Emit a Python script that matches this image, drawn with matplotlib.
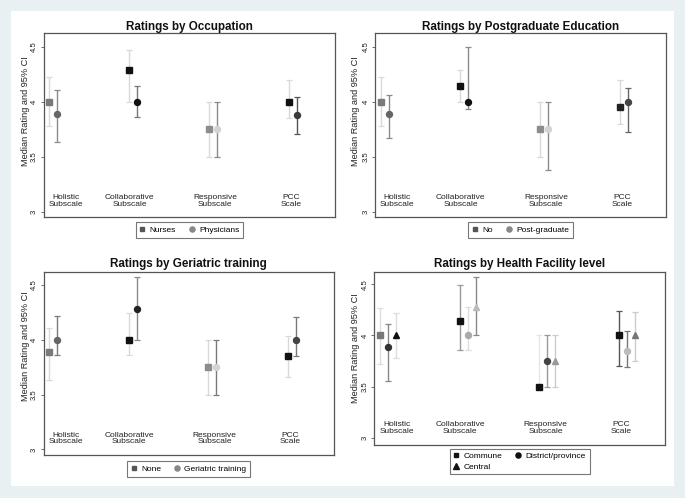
import matplotlib
matplotlib.use("Agg")
import matplotlib.pyplot as plt
from matplotlib.patches import Rectangle
from matplotlib.lines import Line2D

plt.rcParams['font.family'] = ['Liberation Sans', 'DejaVu Sans']

# ---------------- data ----------------
categories = ["Holistic\nSubscale", "Collaborative\nSubscale", "Responsive\nSubscale", "PCC\nScale"]
yticks = [3, 3.5, 4, 4.5]
ytick_labels = ["3", "3.5", "4", "4.5"]

# Occupation
nurses_med = [4.0, 4.286, 3.75, 4.0]
nurses_lo = [3.78, 4.0, 3.5, 3.85]
nurses_hi = [4.22, 4.47, 4.0, 4.20]
phys_med = [3.89, 4.0, 3.75, 3.875]
phys_lo = [3.63, 3.86, 3.5, 3.71]
phys_hi = [4.11, 4.14, 4.0, 4.04]

# Postgraduate education
no_med = [4.0, 4.143, 3.75, 3.95]
no_lo = [3.78, 4.0, 3.5, 3.80]
no_hi = [4.22, 4.286, 4.0, 4.20]
pg_med = [3.89, 4.0, 3.75, 4.0]
pg_lo = [3.667, 3.93, 3.375, 3.725]
pg_hi = [4.056, 4.5, 4.0, 4.125]

# Geriatric training
none_med = [3.887, 4.0, 3.75, 3.848]
none_lo = [3.633, 3.857, 3.5, 3.664]
none_hi = [4.105, 4.248, 4.0, 4.036]
ger_med = [4.0, 4.28, 3.75, 4.0]
ger_lo = [3.857, 4.0, 3.5, 3.848]
ger_hi = [4.218, 4.57, 4.0, 4.212]

# Health facility level
com_med = [4.0, 4.139, 3.5, 4.0]
com_lo = [3.725, 3.854, 3.5, 3.70]
com_hi = [4.27, 4.49, 4.0, 4.243]
dis_med = [3.887, 4.0, 3.75, 3.848]
dis_lo = [3.556, 3.854, 3.5, 3.69]
dis_hi = [4.113, 4.28, 4.0, 4.04]
cen_med = [4.0, 4.28, 3.75, 4.0]
cen_lo = [3.777, 4.0, 3.5, 3.75]
cen_hi = [4.217, 4.566, 4.0, 4.23]

# ---------------- styles ----------------
LIGHT = '#d9d9d9'
p1 = [
    dict(med=nurses_med, lo=nurses_lo, hi=nurses_hi, marker='s', ms=3.9,
         mcol=['#7a7a7a', '#111111', '#8c8c8c', '#111111'], ecol=[LIGHT] * 4),
    dict(med=phys_med, lo=phys_lo, hi=phys_hi, marker='o', ms=4.3,
         mcol=['#666666', '#111111', '#d3d3d3', '#3a3a3a'],
         ecol=['#8a8a8a', '#777777', '#8a8a8a', '#555555']),
]
p2 = [
    dict(med=no_med, lo=no_lo, hi=no_hi, marker='s', ms=3.9,
         mcol=['#7a7a7a', '#111111', '#8c8c8c', '#222222'], ecol=[LIGHT] * 4),
    dict(med=pg_med, lo=pg_lo, hi=pg_hi, marker='o', ms=4.3,
         mcol=['#666666', '#111111', '#d3d3d3', '#444444'],
         ecol=['#8a8a8a', '#8a8a8a', '#8a8a8a', '#666666']),
]
p3 = [
    dict(med=none_med, lo=none_lo, hi=none_hi, marker='s', ms=3.9,
         mcol=['#7a7a7a', '#111111', '#8c8c8c', '#111111'], ecol=[LIGHT] * 4),
    dict(med=ger_med, lo=ger_lo, hi=ger_hi, marker='o', ms=4.3,
         mcol=['#666666', '#222222', '#d3d3d3', '#444444'],
         ecol=['#7a7a7a', '#8a8a8a', '#7a7a7a', '#7a7a7a']),
]
p4 = [
    dict(med=com_med, lo=com_lo, hi=com_hi, marker='s', ms=3.9,
         mcol=['#777777', '#111111', '#111111', '#111111'],
         ecol=['#dddddd', '#999999', '#e6e6e6', '#555555']),
    dict(med=dis_med, lo=dis_lo, hi=dis_hi, marker='o', ms=4.3,
         mcol=['#333333', '#aaaaaa', '#444444', '#bbbbbb'],
         ecol=['#888888', '#dddddd', '#999999', '#777777']),
    dict(med=cen_med, lo=cen_lo, hi=cen_hi, marker='^', ms=4.5,
         mcol=['#111111', '#bbbbbb', '#999999', '#777777'],
         ecol=['#dddddd', '#888888', '#cccccc', '#cccccc']),
]

W, H = 685, 498
fig = plt.figure(figsize=(W / 100, H / 100), dpi=100)
fig.patch.set_facecolor('#e9f0f2')
fig.patches.append(Rectangle((11 / W, 1 - 486 / H), (674 - 11) / W, (486 - 11) / H,
                             transform=fig.transFigure, facecolor='white',
                             edgecolor='none', zorder=-10))


def add_axes(left, right, top, bottom):
    ax = fig.add_axes([left / W, 1 - bottom / H, (right - left) / W, (bottom - top) / H])
    ax.set_zorder(1)
    return ax


label_x = [1.21, 2.005, 3.078, 4.03]


def draw(ax, title, series, ylim, title_y, ylab_xy):
    ax.set_facecolor('white')
    offsets = [0.0, 0.1, 0.2]
    for k, s in enumerate(series):
        for i in range(4):
            x = i + 1 + offsets[k]
            m = s['med'][i]
            ax.errorbar([x], [m], yerr=[[m - s['lo'][i]], [s['hi'][i] - m]],
                        fmt='none', ecolor=s['ecol'][i], elinewidth=1.0,
                        capsize=2.2, capthick=0.9, zorder=2)
            ax.plot([x], [m], marker=s['marker'], ms=s['ms'], color=s['mcol'][i],
                    mec=s['mcol'][i], linestyle='none', zorder=3)
    for i, c in enumerate(categories):
        ax.text(label_x[i], 3.1, c, ha='center', va='center', fontsize=6,
                color='#222222', linespacing=0.95)
    ax.set_xlim(0.93, 4.578)
    ax.set_ylim(*ylim)
    ax.set_xticks([])
    ax.set_yticks(yticks)
    ax.set_yticklabels(ytick_labels, rotation=90, va='center')
    ax.tick_params(axis='y', length=2.5, width=0.6, pad=1.5, labelsize=5.6,
                   color='#555555', labelcolor='#222222')
    for sp in ax.spines.values():
        sp.set_color('#555555')
        sp.set_linewidth(0.9)
    ax.text(0.5, title_y, title, transform=ax.transAxes, ha='center', va='center',
            fontsize=8.4, fontweight='bold', color='#111111')
    ax.text(ylab_xy[0], ylab_xy[1], 'Median Rating and 95% CI', transform=ax.transAxes,
            rotation=90, ha='center', va='center', fontsize=6.6, color='#222222')


def add_legend(ax, specs, labels, leg_y):
    handles = [Line2D([], [], marker=m, linestyle='none', color=c, mec=c, ms=ms)
               for m, c, ms in specs]
    leg = ax.legend(handles, labels, loc='center', bbox_to_anchor=(0.5, leg_y),
                    ncol=2, fontsize=6, frameon=True, fancybox=False,
                    handlelength=0.6, handletextpad=0.6, columnspacing=1.6,
                    borderpad=0.45, labelspacing=0.3, borderaxespad=0)
    leg.get_frame().set_edgecolor('#555555')
    leg.get_frame().set_linewidth(0.8)


two = [('s', '#555555', 3.3), ('o', '#888888', 3.7)]

ax1 = add_axes(43.7, 335, 33.3, 217)
draw(ax1, 'Ratings by Occupation', p1, (2.952, 4.621), 1.034, (-0.064, 0.578))
add_legend(ax1, two, ['Nurses', 'Physicians'], -0.071)

ax2 = add_axes(375, 666, 33.3, 217)
draw(ax2, 'Ratings by Postgraduate Education', p2, (2.952, 4.621), 1.034, (-0.068, 0.578))
add_legend(ax2, two, ['No', 'Post-graduate'], -0.071)

ax3 = add_axes(43.7, 334, 271.7, 454.7)
draw(ax3, 'Ratings by Geriatric training', p3, (2.952, 4.621), 1.042, (-0.064, 0.591))
add_legend(ax3, two, ['None', 'Geriatric training'], -0.078)

ax4 = add_axes(374.3, 665.3, 271.7, 444.7)
draw(ax4, 'Ratings by Health Facility level', p4, (2.935, 4.622), 1.045, (-0.065, 0.559))
add_legend(ax4, [('s', '#111111', 3.3), ('^', '#111111', 3.9), ('o', '#111111', 3.7)],
           ['Commune', 'Central', 'District/province'], -0.098)

fig.savefig('out.png', dpi=100, facecolor=fig.get_facecolor())
